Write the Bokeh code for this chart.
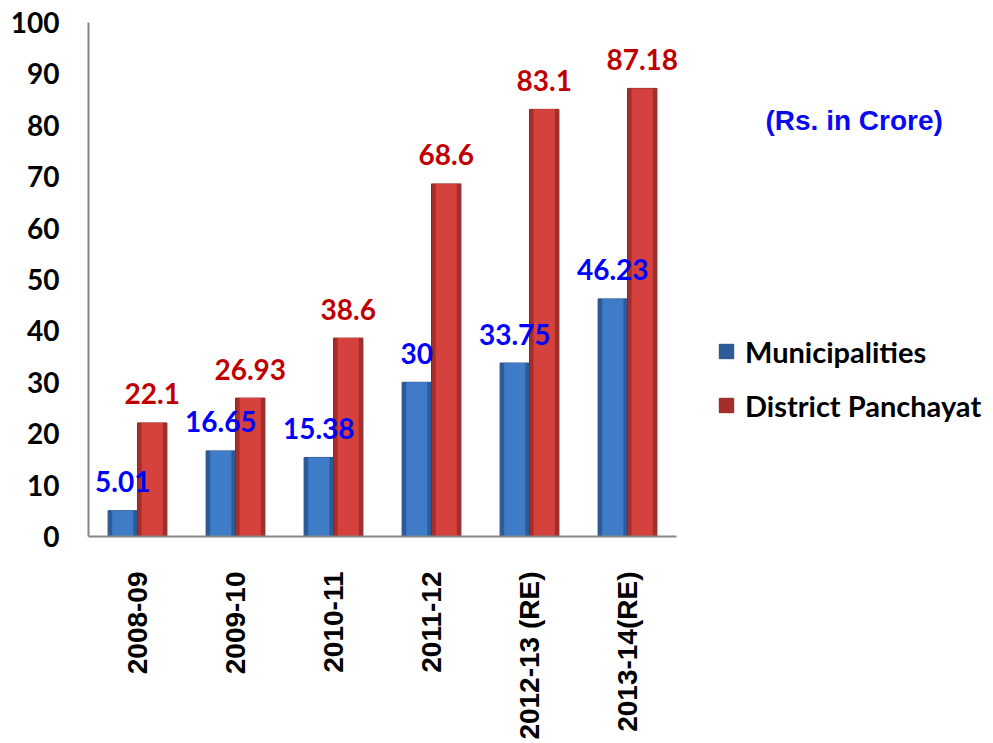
import math
from bokeh.plotting import figure
from bokeh.models import Range1d, FixedTicker, Legend, LegendItem, Label, ColumnDataSource
from bokeh.core.properties import value
from bokeh.embed import file_html
from bokeh.resources import INLINE

years = ["2008-09", "2009-10", "2010-11", "2011-12", "2012-13 (RE)", "2013-14(RE)"]
municipalities = [5.01, 16.65, 15.38, 30, 33.75, 46.23]
district_panchayat = [22.1, 26.93, 38.6, 68.6, 83.1, 87.18]
muni_labels = ["5.01", "16.65", "15.38", "30", "33.75", "46.23"]
dp_labels = ["22.1", "26.93", "38.6", "68.6", "83.1", "87.18"]
y_ticks = [0, 10, 20, 30, 40, 50, 60, 70, 80, 90, 100]
unit_note = "(Rs. in Crore)"

W, H = 993, 743
LEFT, TOP = 88, 22
FRAME_H = 514
BOTTOM = H - TOP - FRAME_H
CAT_PX = 98.0
frame_w = W - LEFT
n = len(years)

p = figure(width=W, height=H, output_backend="svg", toolbar_location=None,
           x_range=Range1d(0, frame_w / CAT_PX), y_range=Range1d(0, 100),
           min_border_left=LEFT, min_border_right=0, min_border_top=TOP,
           min_border_bottom=BOTTOM)
p.outline_line_color = None
p.xgrid.visible = False
p.ygrid.visible = False
p.background_fill_color = "white"
p.border_fill_color = "white"

centers = [i + 0.5 for i in range(n)]
bw = 0.30
src = ColumnDataSource(dict(
    xm=[c - bw / 2 for c in centers],
    xd=[c + bw / 2 for c in centers],
    m=municipalities, d=district_panchayat,
    ml=muni_labels, dl=dp_labels,
))

# bars: darker outer body with lighter inner face (bevel look)
rm = p.vbar(x="xm", top="m", bottom=0, width=bw, source=src,
            fill_color="#2C5B98", line_color="#264F85", line_width=1)
p.vbar(x="xm", top="m", bottom=0, width=bw * 0.72, source=src,
       fill_color="#3E7CC8", line_color=None)
rd = p.vbar(x="xd", top="d", bottom=0, width=bw, source=src,
            fill_color="#A52D2A", line_color="#8E2523", line_width=1)
p.vbar(x="xd", top="d", bottom=0, width=bw * 0.72, source=src,
       fill_color="#D5413D", line_color=None)

# data labels
p.text(x="xm", y="m", text="ml", source=src, text_align="center",
       text_baseline="alphabetic", y_offset=-29, text_color="#0000FF",
       text_font=value("Lato"), text_font_style="bold",
       text_font_size=value("28px"))
p.text(x="xd", y="d", text="dl", source=src, text_align="center",
       text_baseline="alphabetic", y_offset=-29, text_color="#C00000",
       text_font=value("Lato"), text_font_style="bold",
       text_font_size=value("28px"))

# axes
xa = p.xaxis[0]
xa.bounds = (0, n)
xa.ticker = FixedTicker(ticks=centers)
xa.major_label_overrides = {c: y for c, y in zip(centers, years)}
xa.major_label_orientation = math.pi / 2
xa.major_label_standoff = 29
xa.major_label_text_font = "Liberation Sans"
xa.major_label_text_font_style = "bold"
xa.major_label_text_font_size = "28px"
xa.major_label_text_color = "black"
xa.axis_line_color = "#868686"
xa.axis_line_width = 2
xa.major_tick_line_color = None
xa.minor_tick_line_color = None

ya = p.yaxis[0]
ya.bounds = (0, 100)
ya.ticker = FixedTicker(ticks=y_ticks)
ya.major_label_standoff = 23
ya.major_label_text_font = "Lato"
ya.major_label_text_font_style = "bold"
ya.major_label_text_font_size = "28px"
ya.major_label_text_color = "black"
ya.axis_line_color = "#868686"
ya.axis_line_width = 2
ya.major_tick_line_color = None
ya.minor_tick_line_color = None

legend = Legend(items=[LegendItem(label="Municipalities", renderers=[rm]),
                       LegendItem(label="District Panchayat", renderers=[rd])],
                location=(629, 113), orientation="vertical",
                border_line_color=None, background_fill_alpha=0,
                padding=0, margin=0, spacing=18,
                glyph_width=18, glyph_height=18, label_height=36,
                label_standoff=10,
                label_text_font="Lato", label_text_font_style="bold",
                label_text_font_size="29px", label_text_color="black")
p.add_layout(legend, "center")

p.add_layout(Label(x=(765 - 88) / CAT_PX, y=81, text=unit_note,
                   text_align="left", text_baseline="middle",
                   text_color="#0A0AF0", text_font="Liberation Sans",
                   text_font_style="bold", text_font_size="28px"))

open("out.html", "w").write(file_html(p, INLINE))
